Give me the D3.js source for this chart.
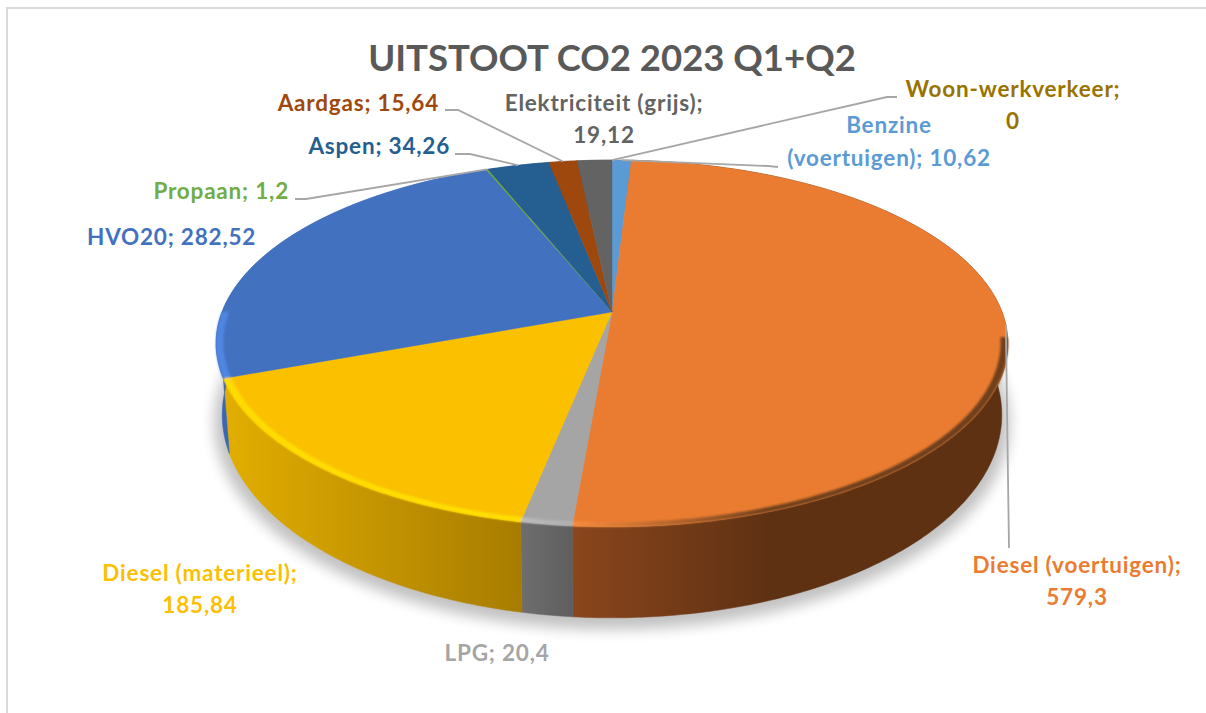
<!DOCTYPE html>
<html>
<head>
<meta charset="utf-8">
<script src="https://cdn.jsdelivr.net/npm/d3@7"></script>
<style>
  html, body { margin: 0; padding: 0; background: #fff; overflow: hidden; }
  text { font-family: Lato, sans-serif; font-weight: 700; }
</style>
</head>
<body>
<div id="main"></div>
<script>
// values
const categories = ["Benzine (voertuigen)", "Diesel (voertuigen)", "LPG", "Diesel (materieel)", "HVO20",
  "Propaan", "Aspen", "Aardgas", "Elektriciteit (grijs)", "Woon-werkverkeer"];
const values = [10.62, 579.3, 20.4, 185.84, 282.52, 1.2, 34.26, 15.64, 19.12, 0];
const title = "UITSTOOT CO2 2023 Q1+Q2";

// styles, same order as categories
const colors = ["#5b9bd5", "#ea7c31", "#a5a5a5", "#fbc000", "#4271c0", "#70ad47", "#255e91", "#9e480e", "#636363", "#997300"];
const sideFrom = ["#4a7faf", "#8a461c", "#6e6e6e", "#e2ae00", "#3a66b4", "#5a8a38", "#1d4a74", "#7e390b", "#4f4f4f", "#7a5c00"];
const sideTo = ["#4a7faf", "#5f3113", "#5e5e5e", "#a87c00", "#3a66b4", "#5a8a38", "#1d4a74", "#7e390b", "#4f4f4f", "#7a5c00"];
const bevelFrom = [null, "#f98d3e", "#bcbcbc", "#ffdc00", "#4f86e2", null, null, null, null, null];
const bevelTo = [null, "#70401c", "#b0b0b0", "#ffe000", "#4f86e2", null, null, null, null, null];
// how far round the rim the bevel runs (degrees, null = whole slice)
const bevelStartDeg = [null, 98, null, null, null, null, null, null, null, null];
const bevelEndDeg = [null, null, null, null, 270, null, null, null, null, null];

// label layout: anchor, x, baseline of first line, line gap, where the line breaks, leader elbow points
const labelX = [889, 1077, 497, 200, 87, 289, 450, 439, 604, 1013];
const labelY = [133, 573, 661, 581, 245, 199, 154, 111, 111, 97];
const labelAnchor = ["middle", "middle", "middle", "middle", "start", "end", "end", "end", "middle", "middle"];
const labelBreak = [8, 20, 0, 19, 0, 0, 0, 0, 22, 17];
const labelGap = [33, 32, 0, 32, 0, 0, 0, 0, 32, 32];
const leaders = [
  [[778, 167], [768, 166]],
  [[1009, 548]],
  null, null, null,
  [[295, 199], [306, 199]],
  [[455, 154], [470, 154]],
  [[445, 110], [458, 110]],
  null,
  [[897, 97], [887, 97]]
];

// projection of the tilted disc: apex on screen, a/b scale, k perspective
const topDisc = {x0: 612, y0: 312, a: 390, b: 178, k: 0.1716};
const bottomDisc = {x0: 612, y0: 380, a: 384, b: 197, k: 0.1716};
const rad = d => d * Math.PI / 180;

function project(disc, angle, r = 1) {
  const w = 1 + disc.k * r * Math.cos(angle);
  return [
    disc.x0 + disc.a * r * Math.sin(angle) / w,
    disc.y0 - disc.b * r * Math.cos(angle) / w
  ];
}

function arcPoints(disc, a0, a1, r = 1) {
  const n = Math.max(2, Math.ceil(Math.abs(a1 - a0) / 0.01));
  return d3.range(n + 1).map(i => project(disc, a0 + (a1 - a0) * i / n, r));
}

const line = d3.line();
const closed = pts => line(pts) + "Z";

const pie = d3.pie().sort(null).value(d => d.value);
const slices = pie(categories.map((name, i) => ({name, value: values[i], i})));

const bevelStart = d => bevelStartDeg[d.data.i] === null ? d.startAngle : rad(bevelStartDeg[d.data.i]);
const bevelEnd = d => bevelEndDeg[d.data.i] === null ? d.endAngle : rad(bevelEndDeg[d.data.i]);

function main () {
  const svg = d3.create("svg")
    .attr("width", 1206)
    .attr("height", 713)
    .attr("viewBox", [0, 0, 1206, 713]);

  const defs = svg.append("defs");
  defs.append("filter").attr("id", "shadow")
    .attr("x", "-10%").attr("y", "-10%").attr("width", "120%").attr("height", "120%")
    .append("feGaussianBlur").attr("stdDeviation", 7);
  defs.append("filter").attr("id", "soft")
    .attr("x", "-5%").attr("y", "-5%").attr("width", "110%").attr("height", "110%")
    .append("feGaussianBlur").attr("stdDeviation", 1.2);

  // horizontal gradients for the walls and bevels
  function gradient(id, d, from, to) {
    const xs = arcPoints(topDisc, d.startAngle, d.endAngle).map(p => p[0]);
    const g = defs.append("linearGradient").attr("id", id)
      .attr("gradientUnits", "userSpaceOnUse")
      .attr("x1", d3.min(xs)).attr("x2", d3.max(xs)).attr("y1", 0).attr("y2", 0);
    g.append("stop").attr("offset", 0).attr("stop-color", from);
    if (d.data.i === 1) g.append("stop").attr("offset", 0.45).attr("stop-color", to);
    g.append("stop").attr("offset", 1).attr("stop-color", to);
  }
  slices.forEach(d => {
    gradient("side" + d.data.i, d, sideFrom[d.data.i], sideTo[d.data.i]);
    if (bevelFrom[d.data.i]) gradient("bevel" + d.data.i, d, bevelFrom[d.data.i], bevelTo[d.data.i]);
  });

  // chart frame
  svg.append("path")
    .attr("d", "M7,713V8H1206")
    .attr("fill", "none")
    .attr("stroke", "#d9d9d9")
    .attr("stroke-width", 2);

  // title
  svg.append("text")
    .attr("x", 612).attr("y", 71)
    .attr("text-anchor", "middle")
    .attr("font-size", 36.5)
    .attr("fill", "#595959")
    .text(title);

  // drop shadow below the disc
  svg.append("path")
    .attr("d", closed(arcPoints(bottomDisc, 0, 2 * Math.PI, 1.02)))
    .attr("transform", "translate(0,6)")
    .attr("fill", "#000")
    .attr("opacity", 0.24)
    .attr("filter", "url(#shadow)");

  // walls
  svg.append("g")
    .selectAll("path")
    .data(slices.filter(d => d.value > 0))
    .join("path")
    .attr("d", d => closed(arcPoints(topDisc, d.startAngle, d.endAngle)
      .concat(arcPoints(bottomDisc, d.endAngle, d.startAngle))))
    .attr("fill", d => `url(#side${d.data.i})`)
    .attr("stroke", d => `url(#side${d.data.i})`)
    .attr("stroke-width", 0.5);

  // top surface
  svg.append("g")
    .selectAll("path")
    .data(slices.filter(d => d.value > 0))
    .join("path")
    .attr("d", d => closed([project(topDisc, 0, 0)].concat(arcPoints(topDisc, d.startAngle, d.endAngle))))
    .attr("fill", d => colors[d.data.i])
    .attr("stroke", d => colors[d.data.i])
    .attr("stroke-width", 0.4);

  // bevel along the front of the rim
  svg.append("g")
    .attr("filter", "url(#soft)")
    .selectAll("path")
    .data(slices.filter(d => bevelFrom[d.data.i]))
    .join("path")
    .attr("d", d => closed(arcPoints(topDisc, bevelStart(d), bevelEnd(d), 1)
      .concat(arcPoints(topDisc, bevelEnd(d), bevelStart(d), 0.982))))
    .attr("fill", d => `url(#bevel${d.data.i})`);

  // leader lines from the label to the middle of the slice rim
  svg.append("g")
    .attr("fill", "none")
    .attr("stroke", "#a6a6a6")
    .attr("stroke-width", 1.8)
    .selectAll("path")
    .data(slices.filter(d => leaders[d.data.i]))
    .join("path")
    .attr("d", d => line(leaders[d.data.i].concat([project(topDisc, (d.startAngle + d.endAngle) / 2 || 2 * Math.PI)])));

  // data labels
  const labels = svg.append("g")
    .attr("font-size", 22.5)
    .attr("letter-spacing", 0.8)
    .selectAll("text")
    .data(slices)
    .join("text")
    .attr("text-anchor", d => labelAnchor[d.data.i])
    .attr("fill", d => colors[d.data.i]);

  labels.each(function (d) {
    const i = d.data.i;
    const label = `${categories[i]}; ${String(values[i]).replace(".", ",")}`;
    const parts = labelBreak[i] ? [label.slice(0, labelBreak[i]).trim(), label.slice(labelBreak[i]).trim()] : [label];
    d3.select(this).selectAll("tspan")
      .data(parts)
      .join("tspan")
      .attr("x", labelX[i])
      .attr("y", (p, j) => labelY[i] + j * labelGap[i])
      .text(p => p);
  });

  return svg.node();
}

document.getElementById("main").appendChild(main());
</script>
</body>
</html>
